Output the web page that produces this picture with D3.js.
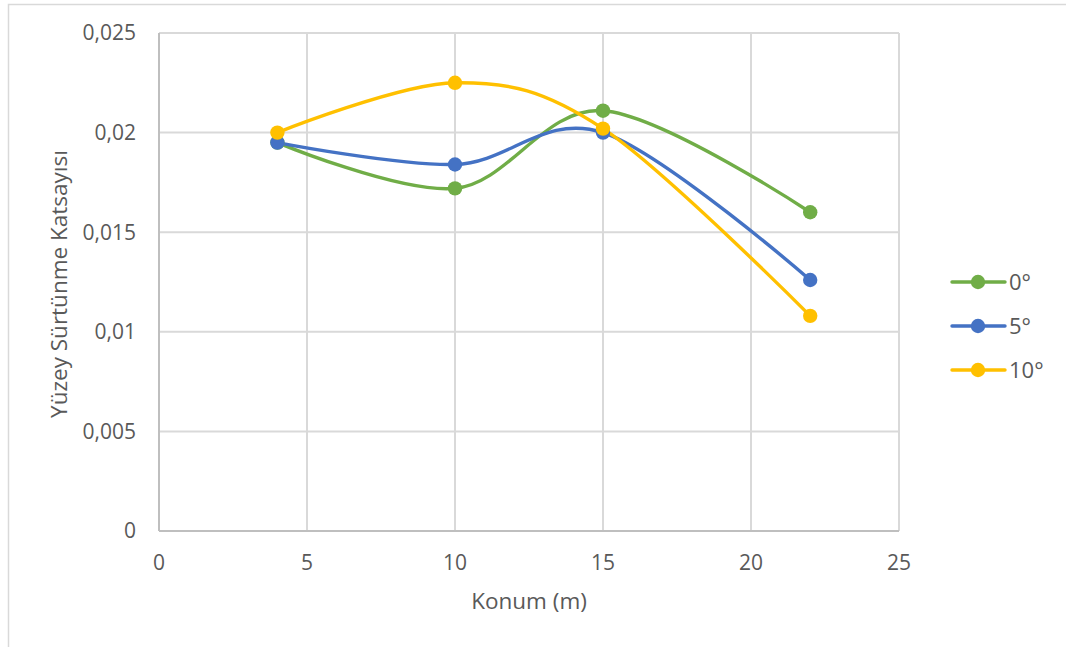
<!DOCTYPE html>
<html><head><meta charset="utf-8">
<script src="https://cdn.jsdelivr.net/npm/d3@7"></script>
<style>body{margin:0;background:#fff}svg{display:block}text{font-family:"Open Sans",sans-serif;fill:#595959}</style>
</head><body><svg id="c" width="1066" height="647"></svg>
<script>
const positions = [4, 10, 15, 22];
const seriesNames = ["0°", "5°", "10°"];
const values0 = [0.0195, 0.0172, 0.0211, 0.0160];
const values5 = [0.0195, 0.0184, 0.0200, 0.0126];
const values10 = [0.0200, 0.0225, 0.0202, 0.0108];
const colors = ["#70AD47", "#4472C4", "#FFC000"];
const xTicks = [0, 5, 10, 15, 20, 25];
const yTicks = [0, 0.005, 0.01, 0.015, 0.02, 0.025];
const xTitle = "Konum (m)";
const yTitle = "Yüzey Sürtünme Katsayısı";

const series = [values0, values5, values10].map((v, i) => ({name: seriesNames[i], color: colors[i], pts: positions.map((p, j) => [p, v[j]])}));

const svg = d3.select("#c");
const L = 159, R = 899, T = 33, B = 531;
const x = d3.scaleLinear().domain([0, 25]).range([L, R]);
const y = d3.scaleLinear().domain([0, 0.025]).range([B, T]);

// chart border
svg.append("rect").attr("x", 8.5).attr("y", 4.5).attr("width", 1070).attr("height", 660)
  .attr("fill", "#fff").attr("stroke", "#d9d9d9").attr("stroke-width", 1.5);

// gridlines
svg.append("g").selectAll("line").data(xTicks).join("line")
  .attr("x1", d => x(d)).attr("x2", d => x(d)).attr("y1", T).attr("y2", B)
  .attr("stroke", "#d9d9d9").attr("stroke-width", 2);
svg.append("g").selectAll("line").data(yTicks).join("line")
  .attr("y1", d => y(d)).attr("y2", d => y(d)).attr("x1", L).attr("x2", R)
  .attr("stroke", "#d9d9d9").attr("stroke-width", 2);
// axis lines
svg.append("line").attr("x1", L).attr("x2", L).attr("y1", T).attr("y2", B).attr("stroke", "#bfbfbf").attr("stroke-width", 2);
svg.append("line").attr("x1", L).attr("x2", R).attr("y1", B).attr("y2", B).attr("stroke", "#bfbfbf").attr("stroke-width", 2);

// tick labels
const fmtY = d => d === 0 ? "0" : String(d).replace(".", ",");
svg.append("g").selectAll("text").data(yTicks).join("text")
  .attr("x", L - 23).attr("y", d => y(d)).attr("dy", "0.35em").attr("text-anchor", "end")
  .attr("font-size", 21).text(fmtY);
svg.append("g").selectAll("text").data(xTicks).join("text")
  .attr("x", d => x(d)).attr("y", B + 39).attr("text-anchor", "middle")
  .attr("font-size", 21).text(d => d);

// titles
svg.append("text").attr("x", (L + R) / 2).attr("y", 609).attr("text-anchor", "middle").attr("font-size", 22.5).text(xTitle);
svg.append("text").attr("transform", `translate(67,${(T + B) / 2 + 2}) rotate(-90)`).attr("text-anchor", "middle").attr("font-size", 22.5).text(yTitle);

// lines
const line = d3.line().x(d => x(d[0])).y(d => y(d[1])).curve(d3.curveCardinal.tension(0));
const g = svg.append("g");
series.forEach(s => {
  g.append("path").attr("d", line(s.pts)).attr("fill", "none").attr("stroke", s.color).attr("stroke-width", 3.4).attr("stroke-linecap", "round");
});
series.forEach(s => {
  g.selectAll(null).data(s.pts).join("circle").attr("cx", d => x(d[0])).attr("cy", d => y(d[1])).attr("r", 7.2).attr("fill", s.color);
});

// legend
const lg = svg.append("g");
series.forEach((s, i) => {
  const ly = 282 + i * 44;
  lg.append("line").attr("x1", 952).attr("x2", 1005).attr("y1", ly).attr("y2", ly).attr("stroke", s.color).attr("stroke-width", 3.4).attr("stroke-linecap", "round");
  lg.append("circle").attr("cx", 978).attr("cy", ly).attr("r", 7.2).attr("fill", s.color);
  lg.append("text").attr("x", 1009).attr("y", ly).attr("dy", "0.35em").attr("font-size", 22).text(s.name);
});
</script></body></html>
